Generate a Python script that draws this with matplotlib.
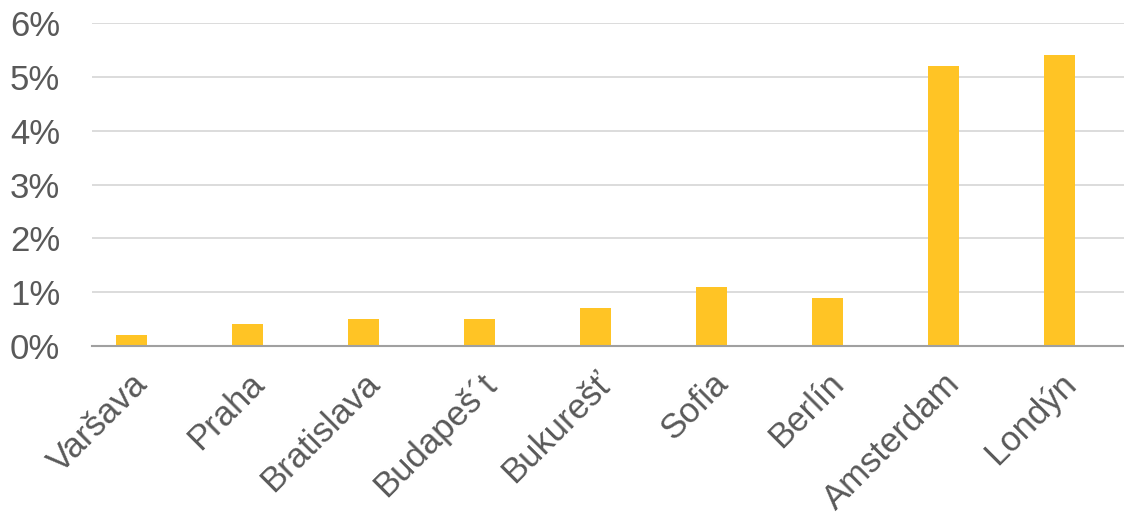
import matplotlib.pyplot as plt
from matplotlib.ticker import FuncFormatter

plt.rcParams['font.family'] = ['Liberation Sans', 'DejaVu Sans']

cities = ['Varšava', 'Praha', 'Bratislava', 'Budapeš\u00b4t', 'Bukurešť',
          'Sofia', 'Berlín', 'Amsterdam', 'Londýn']
values = [0.2, 0.4, 0.5, 0.5, 0.7, 1.1, 0.9, 5.2, 5.4]

fig = plt.figure(figsize=(11.24, 5.14), dpi=100)
ax = fig.add_axes([0.082, 0.327, 0.918, 0.628])

x = range(len(cities))
ax.bar(x, values, width=0.267, color='#FFC425', zorder=3)

ax.set_xlim(-0.336, 8.56)
ax.set_ylim(0, 6)
ax.set_yticks(range(0, 7))
ax.yaxis.set_major_formatter(FuncFormatter(lambda v, p: f'{v:.0f}%'))
ax.grid(axis='y', color='#D9D9D9', linewidth=1.3, zorder=0)

for s in ['top', 'right', 'left']:
    ax.spines[s].set_visible(False)
ax.spines['bottom'].set_color('#A0A0A0')
ax.spines['bottom'].set_linewidth(1.5)
ax.spines['bottom'].set_zorder(4)

ax.tick_params(axis='both', length=0, labelsize=25, labelcolor='#595959')
ax.tick_params(axis='y', pad=23)
ax.set_xticks(list(x))
ax.set_xticklabels(cities, rotation=45, ha='right', rotation_mode='anchor')
ax.tick_params(axis='x', pad=15)

fig.savefig('out.png', dpi=100)
